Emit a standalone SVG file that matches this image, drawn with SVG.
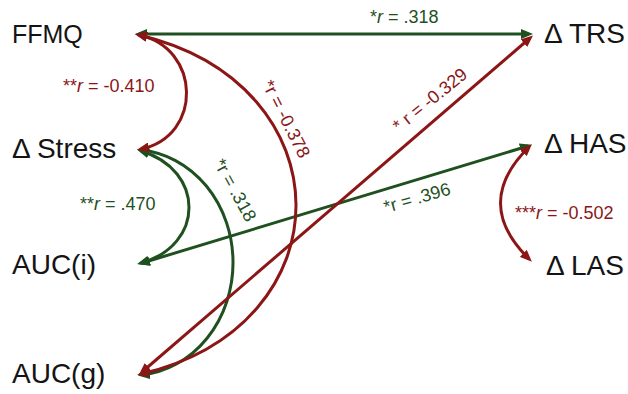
<svg xmlns="http://www.w3.org/2000/svg" width="628" height="394" viewBox="0 0 628 394">
<style>
.node{font-family:"Liberation Sans",Arial,sans-serif;fill:#141414}
.c{fill:none;stroke-width:3}
.r{stroke:#8c1616}
.g{stroke:#1f501f}
.lbl{font-family:"Liberation Sans",Arial,sans-serif;font-size:18px}
.lr{fill:#8c1616}
.lg{fill:#1f501f}
</style>
<defs>
<marker id="mr" viewBox="0 0 12 10" refX="8" refY="5" markerWidth="12" markerHeight="10" markerUnits="userSpaceOnUse" orient="auto-start-reverse"><path d="M0,0 L12,5 L0,10 z" fill="#8c1616"/></marker>
<marker id="mg" viewBox="0 0 12 10" refX="8" refY="5" markerWidth="12" markerHeight="10" markerUnits="userSpaceOnUse" orient="auto-start-reverse"><path d="M0,0 L12,5 L0,10 z" fill="#1f501f"/></marker>
</defs>
<rect width="628" height="394" fill="#ffffff"/>
<g id="connectors">
<path class="c g" d="M139,34 H529" marker-start="url(#mg)" marker-end="url(#mg)"/>
<path class="c g" d="M142,263 L528,146" marker-start="url(#mg)" marker-end="url(#mg)"/>
<path class="c g" d="M141,151 C205,170 205,245 141,263" marker-start="url(#mg)" marker-end="url(#mg)"/>
<path class="c g" d="M141,150 A101,113 0 0 1 142,375" marker-start="url(#mg)" marker-end="url(#mg)"/>
<path class="c r" d="M142,372 L530,38" marker-start="url(#mr)" marker-end="url(#mr)"/>
<path class="c r" d="M139,35 C201,48 203,136 141,149" marker-start="url(#mr)" marker-end="url(#mr)"/>
<path class="c r" d="M139,35 C347,84 349,325 141,374" marker-start="url(#mr)" marker-end="url(#mr)"/>
<path class="c r" d="M529,147 Q472,203 529,259" marker-start="url(#mr)" marker-end="url(#mr)"/>
<text class="lbl lg" x="370" y="23">*<tspan font-style="italic">r</tspan> = .318</text>
<text class="lbl lr" x="63" y="92">**<tspan font-style="italic">r</tspan> = -0.410</text>
<text class="lbl lg" x="80" y="210">**<tspan font-style="italic">r</tspan> = .470</text>
<text class="lbl lr" x="515" y="219">***<tspan font-style="italic">r</tspan> = -0.502</text>
<text class="lbl lr" text-anchor="middle" transform="translate(286,119) rotate(63)" y="6">*r = -0.378</text>
<text class="lbl lg" text-anchor="middle" transform="translate(235,190) rotate(61)" y="6">*r = .318</text>
<text class="lbl lr" text-anchor="middle" transform="translate(430,100) rotate(-39)" y="6">* r = -0.329</text>
<text class="lbl lg" text-anchor="middle" transform="translate(417,198) rotate(-16)" y="6">*r = .396</text>
</g>
<g id="FFMQ"><text class="node" x="12" y="43" font-size="25">FFMQ</text></g>
<g id="dStress"><text class="node" x="12" y="158" font-size="28">Δ Stress</text></g>
<g id="AUCi"><text class="node" x="12" y="274" font-size="28">AUC(i)</text></g>
<g id="AUCg"><text class="node" x="12" y="383" font-size="28">AUC(g)</text></g>
<g id="dTRS"><text class="node" x="544" y="43" font-size="28">Δ TRS</text></g>
<g id="dHAS"><text class="node" x="544" y="153" font-size="28">Δ HAS</text></g>
<g id="dLAS"><text class="node" x="546" y="275" font-size="28">Δ LAS</text></g>
</svg>
